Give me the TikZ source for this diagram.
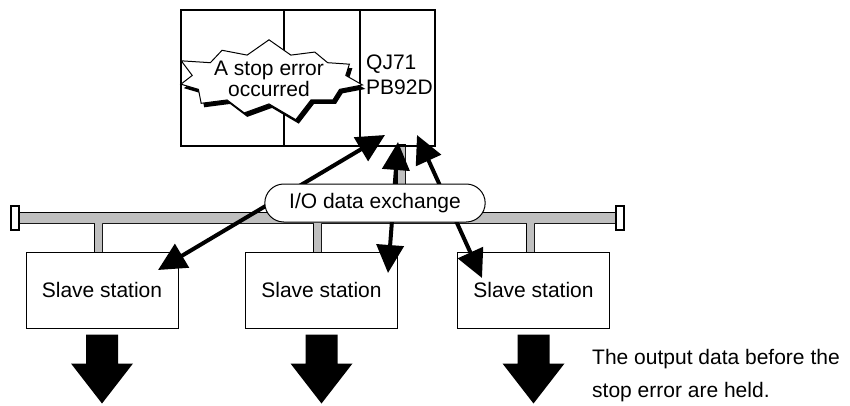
\documentclass[tikz,border=0pt]{standalone}
\usepackage{fontspec}
\setmainfont{Liberation Sans}
\usetikzlibrary{arrows.meta,shapes.misc,shapes.symbols,shadows}

\tikzset{
	txt/.style={font=\fontsize{21}{25}\selectfont},
	slave/.style={txt, draw, fill=white, line width=1pt, minimum width=152pt, minimum height=76pt},
	exchange/.style={{Triangle[length=28pt,width=27pt]}-{Triangle[length=28pt,width=27pt]}, line width=4pt},
	busline/.style={draw, line width=1.6pt},
	busfill/.style={fill=gray!50},
}

\begin{document}
\begin{tikzpicture}[x=1pt,y=-1pt]

	\useasboundingbox (0,0) rectangle (850,405);

	% Bus and drops
	\foreach \s in {busline,busfill}
		\path[\s] (19,213) rectangle (616,223)
			(95,222) rectangle (102,253)
			(314,222) rectangle (321,253)
			(527,222) rectangle (534,253)
			(398,145) rectangle (405,214);
	\draw[line width=1.2pt, fill=white] (11,206) rectangle (19,230);
	\draw[line width=1.2pt, fill=white] (616,206) rectangle (624,230);

	% Slave stations
	\node[slave] (s1) at (102,290) {Slave station};
	\node[slave] (s2) at (321.5,290) {Slave station};
	\node[slave] (s3) at (533.5,290) {Slave station};

	% Output arrows
	\foreach \n in {s1,s2,s3}
		\fill (\n.south) ++(-16,6) -- ++(32,0) -- ++(0,29) -- ++(15,0)
			-- ++(-31,40) -- ++(-31,-40) -- ++(15,0) -- cycle;
	\node[font=\fontsize{21}{33}\selectfont, anchor=west, align=left, inner sep=0pt] (held) at (592,376) {The output data before the\\stop error are held.};

	% CPU rack
	\draw[line width=1.2pt] (181,10) rectangle (435,146);
	\draw[line width=1.2pt] (284,10) -- (284,146) (360,10) -- (360,146);
	\node[txt, anchor=west, align=left, inner sep=0pt] (cpu) at (366,75) {QJ71\\PB92D};

	% Error burst
	\node[txt, font=\fontsize{21}{19}\selectfont, starburst, draw, fill=white, line width=1pt, align=center,
		inner sep=0pt, starburst points=11, starburst point height=20pt,
		drop shadow={shadow xshift=3pt, shadow yshift=-4pt, fill=black, opacity=1}] (err) at (269,79) {A stop error\\occurred};

	% Data exchange
	\coordinate (r1) at (385,135);
	\coordinate (r2) at (398,142);
	\coordinate (r3) at (417,135);
	\coordinate (t1) at (158,270);
	\coordinate (t2) at (388,273);
	\coordinate (t3) at (482,278);
	\draw[exchange] (t1) -- (r1);
	\draw[exchange] (t2) -- (r2);
	\draw[exchange] (t3) -- (r3);

	\node[txt, rounded rectangle, draw, fill=white, line width=1pt, minimum width=227pt, minimum height=38pt] (io) at (375,203) {I/O data exchange};

\end{tikzpicture}
\end{document}
